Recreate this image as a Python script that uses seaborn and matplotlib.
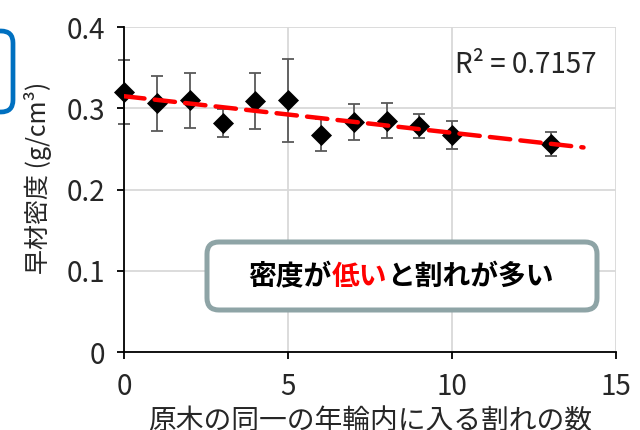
import numpy as np
import pandas as pd
import matplotlib.pyplot as plt
import seaborn as sns
from matplotlib.patches import FancyBboxPatch
from matplotlib.offsetbox import TextArea, HPacker, AnnotationBbox

# 原木の同一の年輪内に入る割れの数 と 早材密度
crack_count = [0, 1, 2, 3, 4, 5, 6, 7, 8, 9, 10, 13]
density = [0.320, 0.306, 0.310, 0.282, 0.309, 0.310, 0.267, 0.283, 0.285, 0.278, 0.267, 0.256]
density_sd = [0.039, 0.034, 0.034, 0.017, 0.034, 0.051, 0.020, 0.022, 0.021, 0.015, 0.017, 0.015]
trend_x = [0, 14]
r2_label = "R² = 0.7157"
x_ticks = [0, 5, 10, 15]
y_ticks = [0, 0.1, 0.2, 0.3, 0.4]
y_tick_labels = ["0", "0.1", "0.2", "0.3", "0.4"]
x_label = "原木の同一の年輪内に入る割れの数"
y_label = "早材密度 (g/cm³)"
note_parts = ["密度が", "低い", "と割れが多い"]
note_colors = ["black", "red", "black"]

df = pd.DataFrame({"cracks": crack_count, "density": density, "sd": density_sd})

# linear trend (Excel-style trendline)
slope, intercept = np.polyfit(df["cracks"], df["density"], 1)
trend = pd.DataFrame({"x": trend_x})
trend["y"] = intercept + slope * trend["x"]

sns.set_style("ticks")
plt.rcParams['font.family'] = ['Noto Sans CJK JP', 'DejaVu Sans']

fig = plt.figure(figsize=(6.4, 4.3), dpi=100)
ax = fig.add_axes([0.194, 0.181, 0.769, 0.756])

eb = ax.errorbar(df["cracks"], df["density"], yerr=df["sd"], fmt="none",
                 ecolor="#595959", elinewidth=1.3, capsize=4, capthick=1.3, zorder=2)
for art in eb.lines[1] + eb.lines[2]:
    art.set_clip_on(False)
sns.scatterplot(data=df, x="cracks", y="density", marker="D", s=115,
                color="black", edgecolor="black", linewidth=0, zorder=3,
                clip_on=False, ax=ax)
sns.lineplot(data=trend, x="x", y="y", color="#FF0000", lw=3.2,
             linestyle=(0, (4.6, 2.3)), dash_capstyle="round", zorder=4, ax=ax)

ax.set_xlim(0, 15)
ax.set_ylim(0, 0.4)
ax.set_xticks(x_ticks)
ax.set_yticks(y_ticks)
ax.set_yticklabels(y_tick_labels)
ax.grid(True, color="#D9D9D9", lw=1.3, zorder=0)
ax.set_axisbelow(True)
for side in ["top", "right"]:
    ax.spines[side].set_visible(False)
for side in ["left", "bottom"]:
    ax.spines[side].set_color("black")
    ax.spines[side].set_linewidth(1.3)
ax.tick_params(direction="out", length=5, width=1.3, color="black",
               labelsize=20, pad=9)

ax.set_xlabel(x_label, fontsize=20, labelpad=3)
ax.set_ylabel(y_label, fontsize=18)
ax.yaxis.set_label_coords(-0.146, 0.535)

ax.text(0.959, 0.883, r2_label, transform=ax.transAxes, ha="right",
        va="center", fontsize=20)

# callout box
box = FancyBboxPatch((2.07, 1.20), 3.90, 0.68,
                     boxstyle="round,pad=0,rounding_size=0.12",
                     transform=fig.dpi_scale_trans, facecolor="white",
                     edgecolor="#8EA4A6", lw=3.6, zorder=5)
ax.add_patch(box)
parts = [TextArea(t, textprops=dict(color=c, fontsize=20, fontweight="bold"))
         for t, c in zip(note_parts, note_colors)]
packed = HPacker(children=parts, align="baseline", pad=0, sep=0)
ab = AnnotationBbox(packed, (401 / 640, 1 - 277 / 430), xycoords="figure fraction",
                    frameon=False, box_alignment=(0.5, 0.5), zorder=6)
ax.add_artist(ab)

# blue frame clipped at the left edge
blue = FancyBboxPatch((-0.3, 3.18), 0.43, 0.81,
                      boxstyle="round,pad=0,rounding_size=0.12",
                      transform=fig.dpi_scale_trans, facecolor="none",
                      edgecolor="#0070C0", lw=3.4)
fig.add_artist(blue)

fig.savefig("out.png", dpi=100)
